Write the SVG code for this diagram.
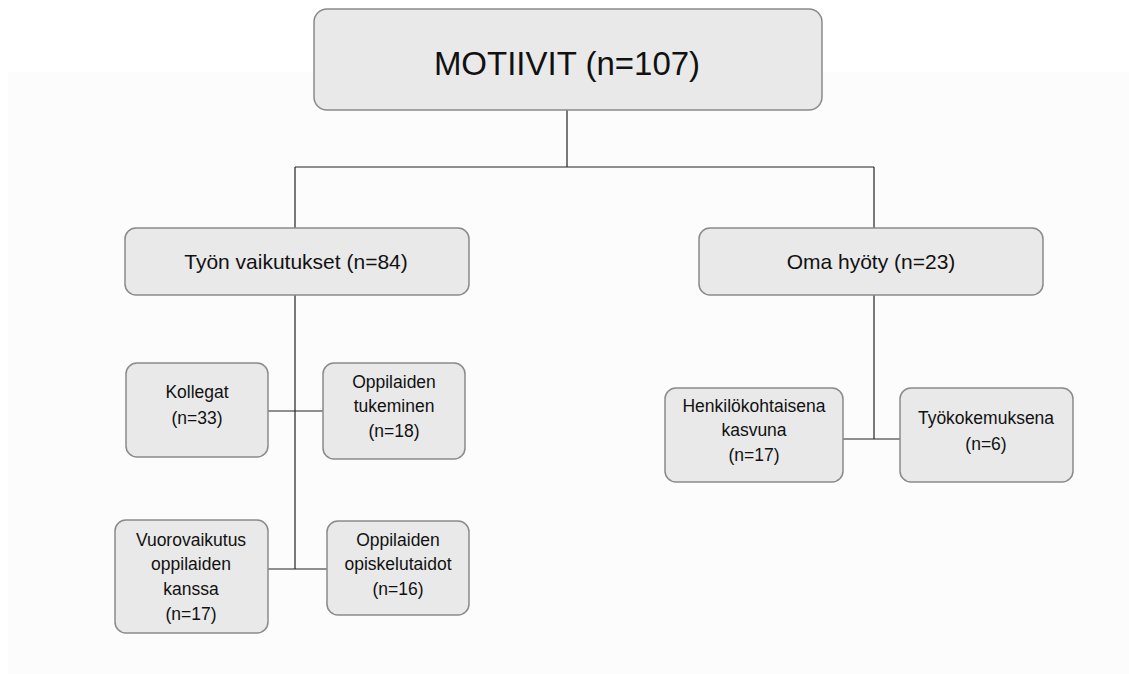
<svg xmlns="http://www.w3.org/2000/svg" width="1129" height="674" viewBox="0 0 1129 674">
<style>
.box{fill:#e9e9e9;stroke:#8a8a8a;stroke-width:1.5}
.t{font-family:"Liberation Sans",Arial,sans-serif;fill:#111;text-anchor:middle}
.s{font-size:17.5px}
.m{font-size:21px}
.conn{stroke:#222;stroke-width:1.2;fill:none}
</style>
<rect x="0" y="0" width="1129" height="674" fill="#ffffff"/>
<rect x="8" y="72" width="1121" height="602" fill="#fcfcfc"/>
<g id="connectors">
<path class="conn" d="M567 110 V167 M295 167 H874 M295 167 V228 M874 167 V228"/>
<path class="conn" d="M295 295 V569 M268 411 H323 M268 569 H327"/>
<path class="conn" d="M874 295 V439 M843 439 H900"/>
</g>
<g id="n-motiivit">
<rect class="box" x="314" y="9" width="508" height="101" rx="13"/>
<text class="t" x="567" y="75" font-size="33">MOTIIVIT (n=107)</text>
</g>
<g id="n-tyon">
<rect class="box" x="125" y="228" width="344" height="67" rx="11"/>
<text class="t m" x="296" y="269">Työn vaikutukset (n=84)</text>
</g>
<g id="n-oma">
<rect class="box" x="699" y="228" width="344" height="67" rx="11"/>
<text class="t m" x="871" y="269">Oma hyöty (n=23)</text>
</g>
<g id="n-kollegat">
<rect class="box" x="126" y="363" width="142" height="94" rx="11"/>
<text class="t s" x="197" y="398">Kollegat</text>
<text class="t s" x="197" y="424">(n=33)</text>
</g>
<g id="n-tukeminen">
<rect class="box" x="323" y="363" width="142" height="96" rx="11"/>
<text class="t s" x="394" y="388">Oppilaiden</text>
<text class="t s" x="394" y="412">tukeminen</text>
<text class="t s" x="394" y="437">(n=18)</text>
</g>
<g id="n-vuorovaikutus">
<rect class="box" x="115" y="520" width="153" height="113" rx="11"/>
<text class="t s" x="191" y="546">Vuorovaikutus</text>
<text class="t s" x="191" y="570">oppilaiden</text>
<text class="t s" x="191" y="595">kanssa</text>
<text class="t s" x="191" y="620">(n=17)</text>
</g>
<g id="n-opiskelutaidot">
<rect class="box" x="327" y="521" width="142" height="94" rx="11"/>
<text class="t s" x="398" y="546">Oppilaiden</text>
<text class="t s" x="398" y="570">opiskelutaidot</text>
<text class="t s" x="398" y="595">(n=16)</text>
</g>
<g id="n-henkilo">
<rect class="box" x="665" y="388" width="178" height="94" rx="11"/>
<text class="t s" x="754" y="412">Henkilökohtaisena</text>
<text class="t s" x="754" y="436">kasvuna</text>
<text class="t s" x="754" y="461">(n=17)</text>
</g>
<g id="n-tyokokemus">
<rect class="box" x="900" y="388" width="173" height="94" rx="11"/>
<text class="t s" x="986" y="424">Työkokemuksena</text>
<text class="t s" x="986" y="450">(n=6)</text>
</g>
</svg>
